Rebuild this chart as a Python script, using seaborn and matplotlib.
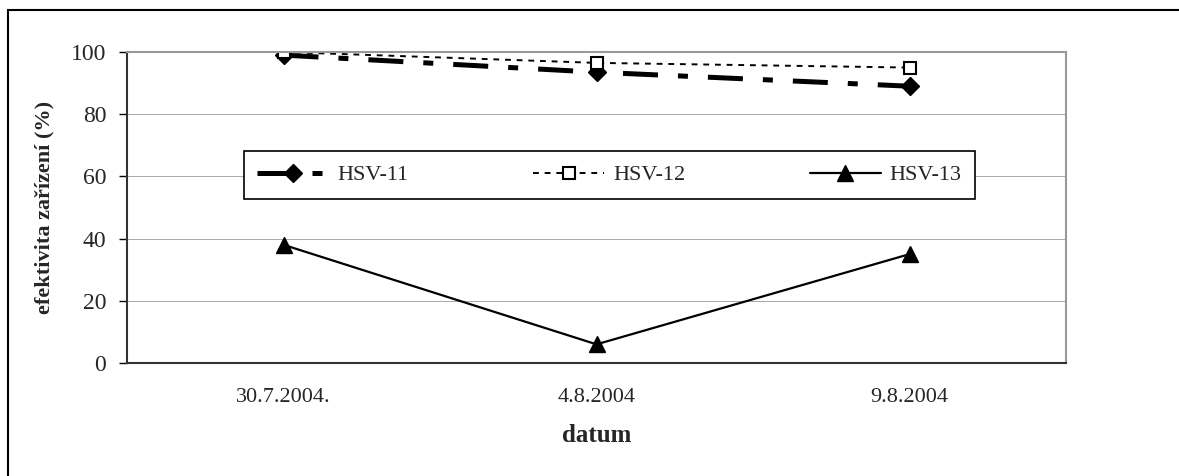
import pandas as pd
import matplotlib.pyplot as plt
import seaborn as sns
from matplotlib.patches import Rectangle
from matplotlib.ticker import FixedLocator

# data
dates = ["30.7.2004.", "4.8.2004", "9.8.2004"]
hsv11 = [99, 93.5, 89]
hsv12 = [100, 96.5, 95]
hsv13 = [38, 6, 35]

rows = []
for name, vals in [("HSV-11", hsv11), ("HSV-12", hsv12), ("HSV-13", hsv13)]:
    for i, v in enumerate(vals):
        rows.append({"pos": i, "datum": dates[i], "value": v, "series": name})
df = pd.DataFrame(rows)

sns.set_style("white")
plt.rcParams["font.family"] = ["Liberation Serif", "DejaVu Serif"]

fig = plt.figure(figsize=(11.79, 4.76), dpi=100)
ax = fig.add_axes([127 / 1179, 1 - 363 / 476, 939 / 1179, 311 / 476])

styles = {
    "HSV-11": dict(lw=3.6, ls=(0, (7, 4, 2, 4)), marker="D", ms=9.5, mfc="black", mec="black"),
    "HSV-12": dict(lw=1.4, ls=(0, (3, 3)), marker="s", ms=9, mfc="white", mec="black", mew=1.5),
    "HSV-13": dict(lw=1.6, ls="-", marker="^", ms=11, mfc="black", mec="black"),
}
for name, st in styles.items():
    sub = df[df["series"] == name]
    sns.lineplot(data=sub, x="pos", y="value", ax=ax, color="black", label=name,
                 linewidth=st["lw"], linestyle=st["ls"], marker=st["marker"],
                 markersize=st["ms"], markerfacecolor=st["mfc"],
                 markeredgecolor=st["mec"], markeredgewidth=st.get("mew", 1))

ax.set_xlim(-0.5, 2.5)
ax.set_ylim(0, 100)
ax.set_yticks([0, 20, 40, 60, 80, 100])
ax.set_xticks(range(len(dates)))
ax.set_xticklabels(dates)
ax.xaxis.set_minor_locator(FixedLocator([-0.5, 0.5, 1.5, 2.5]))
ax.tick_params(axis="x", which="major", length=0, pad=18, labelsize=16)
ax.tick_params(axis="x", which="minor", length=6, width=1, color="black", direction="out")
ax.tick_params(axis="y", length=6, width=1, color="black", direction="out", pad=9, labelsize=17, left=True)
ax.yaxis.grid(True, color="#a8a8a8", linewidth=0.7)
ax.set_axisbelow(True)

for side in ["left", "bottom"]:
    ax.spines[side].set_color("#333333")
    ax.spines[side].set_linewidth(1.5)
for side in ["top", "right"]:
    ax.spines[side].set_visible(True)
    ax.spines[side].set_color("#999999")
    ax.spines[side].set_linewidth(1.5)

ax.set_xlabel("datum", fontsize=18, fontweight="bold", labelpad=12)
ax.set_ylabel("efektivita zařízení (%)", fontsize=16, fontweight="bold", labelpad=12)

leg = ax.legend(loc="center", bbox_to_anchor=(0.1129, 0.527, 0.802, 0.155), mode="expand",
                ncol=3, fontsize=16, frameon=True, fancybox=False, framealpha=1,
                handlelength=3.2, borderpad=0.6, handletextpad=0.4)
leg.get_frame().set_edgecolor("black")
leg.get_frame().set_linewidth(1.2)

# outer chart frame
fig.patches.append(Rectangle((8 / 1179, -0.1), 1.2, 1.1 - 10 / 476, transform=fig.transFigure,
                             fill=False, edgecolor="black", linewidth=1.5))

fig.savefig("out.png", dpi=100)
